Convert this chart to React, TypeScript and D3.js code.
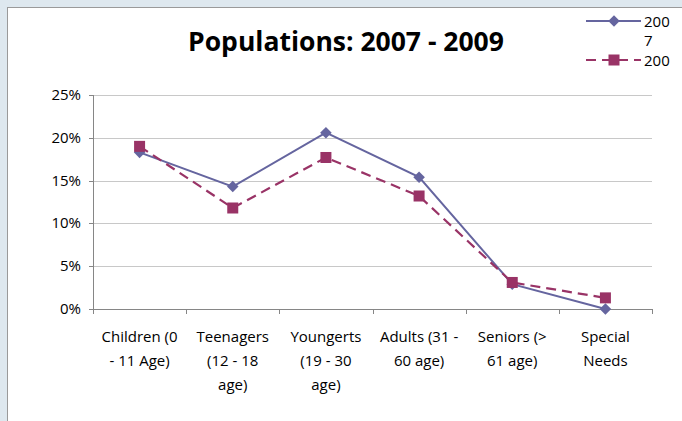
import React from "react";
import * as d3 from "d3";

const categories: string[][] = [
  ["Children (0", "- 11 Age)"],
  ["Teenagers", "(12 - 18", "age)"],
  ["Youngerts", "(19 - 30", "age)"],
  ["Adults (31 -", "60 age)"],
  ["Seniors (>", "61 age)"],
  ["Special", "Needs"],
];
const keys = ["Children", "Teenagers", "Youngerts", "Adults", "Seniors", "Special"];
const values2007 = [0.183, 0.143, 0.206, 0.154, 0.029, 0.0];
const values2009 = [0.19, 0.118, 0.177, 0.132, 0.031, 0.013];
const yTicks = [0, 0.05, 0.1, 0.15, 0.2, 0.25];

const W = 682;
const H = 421;
const plot = { left: 93, right: 652, top: 95, bottom: 309 };
const FONT = "'Open Sans', sans-serif";
const C2007 = "#65659f";
const C2009 = "#993366";

export default function App() {
  const x = d3.scaleBand<string>().domain(keys).range([plot.left, plot.right]);
  const y = d3.scaleLinear().domain([0, 0.25]).range([plot.bottom, plot.top]);
  const cx = (k: string) => (x(k) ?? 0) + x.bandwidth() / 2;
  const line = d3
    .line<number>()
    .x((_, i) => cx(keys[i]))
    .y((d) => y(d));
  const fmt = d3.format(".0%");
  const diamond = d3.symbol(d3.symbolDiamond2, 85)();

  return (
    <svg
      width={W}
      height={H}
      style={{ position: "absolute", left: 0, top: 0, display: "block" }}
      fontFamily={FONT}
    >
      <rect x={0} y={0} width={W} height={H} fill="#dee8ef" />
      <rect x={7.5} y={7.5} width={W} height={H} fill="#ffffff" stroke="#9a9a9a" />

      <text
        x={346}
        y={51}
        textAnchor="middle"
        fontSize={26.5}
        fontWeight="bold"
        fill="#000"
      >
        Populations: 2007 - 2009
      </text>

      {/* gridlines */}
      {yTicks.map((t) => (
        <line
          key={t}
          x1={plot.left}
          x2={plot.right}
          y1={Math.round(y(t)) + 0.5}
          y2={Math.round(y(t)) + 0.5}
          stroke={t === 0 ? "#868686" : "#c8c8c8"}
        />
      ))}
      {/* y axis */}
      <line x1={plot.left + 0.5} x2={plot.left + 0.5} y1={plot.top} y2={plot.bottom} stroke="#868686" />
      {yTicks.map((t) => (
        <g key={"yt" + t}>
          <line
            x1={plot.left - 4}
            x2={plot.left}
            y1={Math.round(y(t)) + 0.5}
            y2={Math.round(y(t)) + 0.5}
            stroke="#868686"
          />
          <text x={plot.left - 12} y={y(t) + 5} textAnchor="end" fontSize={15} fill="#000">
            {fmt(t)}
          </text>
        </g>
      ))}
      {/* x ticks */}
      {[...keys.map((k) => x(k) ?? 0), plot.right].map((xv, i) => (
        <line
          key={"xt" + i}
          x1={Math.round(xv) + 0.5}
          x2={Math.round(xv) + 0.5}
          y1={plot.bottom}
          y2={plot.bottom + 5}
          stroke="#868686"
        />
      ))}
      {categories.map((lines, i) => (
        <text key={"c" + i} textAnchor="middle" fontSize={15} fill="#000">
          {lines.map((l, j) => (
            <tspan key={j} x={cx(keys[i])} y={342 + j * 24}>
              {l}
            </tspan>
          ))}
        </text>
      ))}

      {/* series 2007 */}
      <path d={line(values2007) ?? ""} fill="none" stroke={C2007} strokeWidth={2} />
      {values2007.map((v, i) => (
        <path
          key={"d" + i}
          d={diamond ?? ""}
          transform={`translate(${cx(keys[i])},${y(v)})`}
          fill={C2007}
        />
      ))}
      {/* series 2009 */}
      <path
        d={line(values2009) ?? ""}
        fill="none"
        stroke={C2009}
        strokeWidth={2.2}
        strokeDasharray="10,6"
      />
      {values2009.map((v, i) => (
        <rect
          key={"s" + i}
          x={cx(keys[i]) - 5.5}
          y={y(v) - 5.5}
          width={11}
          height={11}
          fill={C2009}
        />
      ))}

      {/* legend */}
      <defs>
        <clipPath id="legendClip">
          <rect x={570} y={8} width={120} height={64} />
        </clipPath>
      </defs>
      <g clipPath="url(#legendClip)">
        <line x1={586} x2={641} y1={21} y2={21} stroke={C2007} strokeWidth={2} />
        <path d={diamond ?? ""} transform="translate(614,21)" fill={C2007} />
        <text fontSize={15} fill="#000">
          <tspan x={644} y={27}>200</tspan>
          <tspan x={644} y={46}>7</tspan>
        </text>
        <line x1={586} x2={641} y1={60} y2={60} stroke={C2009} strokeWidth={2.2} strokeDasharray="10,6" />
        <rect x={608.5} y={54.5} width={11} height={11} fill={C2009} />
        <text fontSize={15} fill="#000">
          <tspan x={644} y={66}>200</tspan>
          <tspan x={644} y={85}>9</tspan>
        </text>
      </g>
    </svg>
  );
}
